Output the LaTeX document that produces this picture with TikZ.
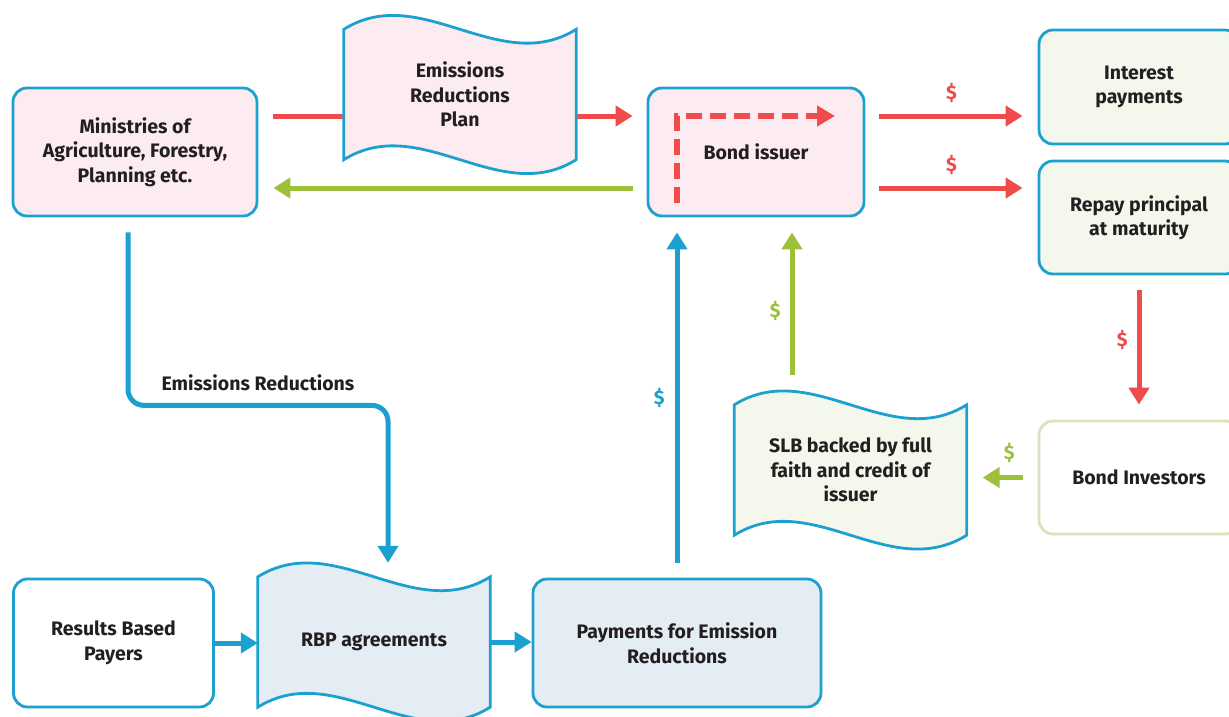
\documentclass[tikz,border=0pt]{standalone}
\usepackage{fontspec}
\setmainfont{Fira Sans}[BoldFont={Fira Sans Bold}]
\usetikzlibrary{arrows.meta,backgrounds}

\definecolor{frameblue}{RGB}{28,160,208}
\definecolor{flowred}{RGB}{239,75,75}
\definecolor{flowgreen}{RGB}{157,192,59}
\definecolor{pinkfill}{RGB}{252,236,241}
\definecolor{greenfill}{RGB}{243,247,236}
\definecolor{bluefill}{RGB}{227,237,243}
\definecolor{paleline}{RGB}{215,228,188}
\definecolor{textdark}{RGB}{35,31,32}

\newcommand{\labelfont}{\fontsize{19.5}{24.5}\selectfont\bfseries}

\tikzset{
  box/.style={draw=frameblue, line width=2.8pt, rounded corners=14pt, align=center,
    inner sep=0pt, font=\labelfont, text=textdark},
  doc/.style={inner sep=0pt, minimum width=232pt, minimum height=130pt, align=center,
    font=\labelfont, text=textdark},
  docline/.style={draw=frameblue, line width=2.8pt},
  flow/.style={line width=5pt, -{Triangle[length=17pt,width=20pt]}},
  redflow/.style={flow, draw=flowred},
  greenflow/.style={flow, draw=flowgreen},
  blueflow/.style={flow, draw=frameblue},
  dashflow/.style={draw=flowred, line width=5.5pt, dash pattern=on 16pt off 8pt,
    -{Triangle[length=18pt,width=20pt]}},
  money/.style={inner sep=0pt, font=\labelfont, text=#1}
}

% wavy document outline behind a doc node
\newcommand{\wavedoc}[2]{%
  \begin{pgfonlayer}{background}
    \draw[docline, fill=#2] (#1.north west)
      .. controls +(77,-48) and +(-77,48) .. (#1.north east)
      -- (#1.south east)
      .. controls +(-77,48) and +(77,-48) .. (#1.south west) -- cycle;
  \end{pgfonlayer}}

\begin{document}
\begin{tikzpicture}[x=1pt, y=-1pt]
  \useasboundingbox (0,0) rectangle (1229,716);

  % boxes
  \node[box, fill=pinkfill, minimum width=244pt, minimum height=128pt] (mini) at (135,152)
    {Ministries of\\Agriculture, Forestry,\\Planning etc.};
  \node[box, fill=pinkfill, minimum width=216pt, minimum height=128pt] (bond) at (756,152)
    {Bond issuer};
  \node[box, fill=greenfill, minimum width=200pt, minimum height=114pt] (interest) at (1139,87)
    {Interest\\payments};
  \node[box, fill=greenfill, minimum width=200pt, minimum height=113pt] (repay) at (1139,217.5)
    {Repay principal\\at maturity};
  \node[box, draw=paleline, fill=white, minimum width=200pt, minimum height=113pt] (investors) at (1139,477.5)
    {Bond Investors};
  \node[box, fill=white, minimum width=200pt, minimum height=128pt] (results) at (113.5,643)
    {Results Based\\Payers};
  \node[box, fill=bluefill, minimum width=288pt, minimum height=128pt] (pay) at (677,643)
    {Payments for Emission\\Reductions};

  % documents
  \node[doc] (plan) at (460,94.5) {Emissions\\Reductions\\Plan};
  \node[doc] (slb) at (850.5,470) {SLB backed by full\\faith and credit of\\issuer};
  \node[doc] (rbp) at (374,642) {RBP agreements};

  \begin{pgfonlayer}{background}
    \draw[redflow, shorten <=15pt, shorten >=14pt] ([yshift=36pt]mini.east) -- ([yshift=36pt]bond.west);
  \end{pgfonlayer}
  \wavedoc{plan}{pinkfill}
  \wavedoc{slb}{greenfill}
  \wavedoc{rbp}{bluefill}

  % flows
  \draw[greenflow, shorten <=14pt, shorten >=15pt] ([yshift=-36pt]bond.west) -- ([yshift=-36pt]mini.east);
  \draw[dashflow] ([xshift=-79pt,yshift=-51pt]bond.center) |- ([xshift=79pt,yshift=36pt]bond.center);

  \draw[redflow, shorten <=14pt, shorten >=15pt] ([yshift=36pt]bond.east) -- ([yshift=36pt]bond.east -| interest.west)
    node[midway, above=11pt, money=flowred] {\$};
  \draw[redflow, shorten <=14pt, shorten >=15pt] ([yshift=-36pt]bond.east) -- ([yshift=-36pt]bond.east -| repay.west)
    node[midway, above=11pt, money=flowred] {\$};
  \draw[redflow, shorten <=15pt, shorten >=15pt] (repay.south) -- (investors.north)
    node[pos=0.45, left=9pt, money=flowred] {\$};
  \draw[greenflow, shorten <=15pt, shorten >=16pt] (investors.west) -- (investors.west -| slb.east)
    node[pos=0.4, above=12pt, money=flowgreen] {\$};
  \draw[greenflow, shorten <=30pt, shorten >=15pt] ([xshift=36pt]bond.south |- slb.north) -- ([xshift=36pt]bond.south)
    node[midway, left=9pt, money=flowgreen] {\$};
  \draw[blueflow, shorten <=15pt, shorten >=15pt] (pay.north) -- (pay.north |- bond.south)
    node[midway, left=10pt, money=frameblue] {\$};

  \draw[blueflow, rounded corners=16pt, shorten <=15pt, shorten >=14pt]
    ([xshift=-7pt]mini.south) -- ++(0,188)
    -| node[pos=0.25, above=12pt, inner sep=0pt, font=\labelfont, text=textdark] {Emissions Reductions}
    ([xshift=14pt]rbp.north);
  \draw[blueflow] (results.east) -- (results.east -| rbp.west);
  \draw[blueflow] (rbp.east) -- (rbp.east -| pay.west);
\end{tikzpicture}
\end{document}
